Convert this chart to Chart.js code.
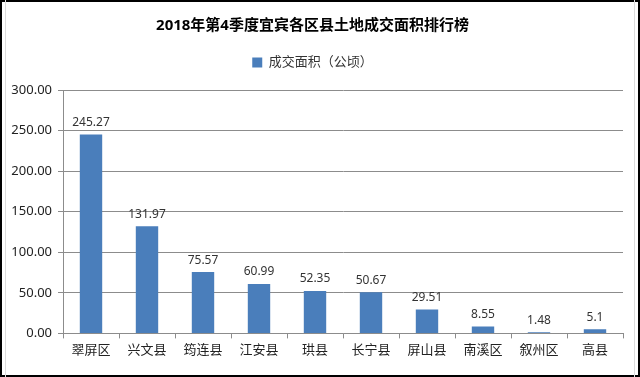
<!DOCTYPE html>
<html>
<head>
<meta charset="utf-8">
<script src="https://cdn.jsdelivr.net/npm/chart.js@4"></script>
<style>
    body { margin: 0; background: #fff; }
    #wrap { position: relative; width: 640px; height: 377px; box-sizing: border-box; border: 2px solid #000; background: #fff; }
    #inner { position: absolute; left: 3px; right: 3px; top: -2px; bottom: -2px; border-left: 1px solid #dcdcdc; border-right: 1px solid #dcdcdc; pointer-events: none; }
    canvas { display: block; }
</style>
</head>
<body>
<div id="wrap">
    <canvas id="chart" width="636" height="373"></canvas>
    <div id="inner"></div>
</div>
<script>
// DATA
const categories = ['翠屏区', '兴文县', '筠连县', '江安县', '珙县', '长宁县', '屏山县', '南溪区', '叙州区', '高县'];
const areaValues = [245.27, 131.97, 75.57, 60.99, 52.35, 50.67, 29.51, 8.55, 1.48, 5.1];
const yTicks = [0, 50, 100, 150, 200, 250, 300];

const FONT = "'Noto Sans', 'Noto Sans CJK SC', sans-serif";
const GRID = '#8c8c8c';

// value labels above the bars
const valueLabels = {
    id: 'valueLabels',
    afterDatasetsDraw(chart) {
        const ctx = chart.ctx;
        const meta = chart.getDatasetMeta(0);
        ctx.save();
        ctx.font = '12px ' + FONT;
        ctx.fillStyle = '#333';
        ctx.textAlign = 'center';
        ctx.textBaseline = 'bottom';
        meta.data.forEach((bar, i) => {
            ctx.fillText(String(areaValues[i]), bar.x, bar.y - 6);
        });
        ctx.restore();
    }
};

// extra space below the legend
const legendGap = {
    id: 'legendGap',
    beforeInit(chart) {
        const fit = chart.legend.fit;
        chart.legend.fit = function () {
            fit.bind(chart.legend)();
            this.height += 11;
        };
    }
};

new Chart(document.getElementById('chart'), {
    type: 'bar',
    data: {
        labels: categories,
        datasets: [{
            label: '成交面积（公顷）',
            data: areaValues,
            backgroundColor: '#4a7ebb',
            barPercentage: 0.4,
            categoryPercentage: 1
        }]
    },
    options: {
        responsive: false,
        animation: false,
        layout: { padding: { left: 0, right: 15, top: 0, bottom: 13 } },
        plugins: {
            title: {
                display: true,
                text: '2018年第4季度宜宾各区县土地成交面积排行榜',
                color: '#000',
                font: { family: FONT, size: 15, weight: 'bold' },
                padding: { top: 15, bottom: 11 }
            },
            legend: {
                position: 'top',
                labels: {
                    color: '#333',
                    font: { family: FONT, size: 13 },
                    boxWidth: 10,
                    boxHeight: 10,
                    padding: 10
                }
            },
            tooltip: { enabled: false }
        },
        scales: {
            x: {
                grid: { display: true, offset: true, drawOnChartArea: false, color: GRID, tickLength: 5 },
                border: { color: GRID },
                ticks: { color: '#222', font: { family: FONT, size: 13 }, padding: 4 }
            },
            y: {
                min: 0,
                max: 300,
                afterFit(axis) { axis.width = 61; },
                afterBuildTicks(axis) { axis.ticks = yTicks.map(v => ({ value: v })); },
                grid: { color: GRID, tickLength: 5 },
                border: { color: GRID },
                ticks: {
                    color: '#222',
                    font: { family: FONT, size: 13 },
                    padding: 6,
                    callback: v => v.toFixed(2)
                }
            }
        }
    },
    plugins: [valueLabels, legendGap]
});
</script>
</body>
</html>
